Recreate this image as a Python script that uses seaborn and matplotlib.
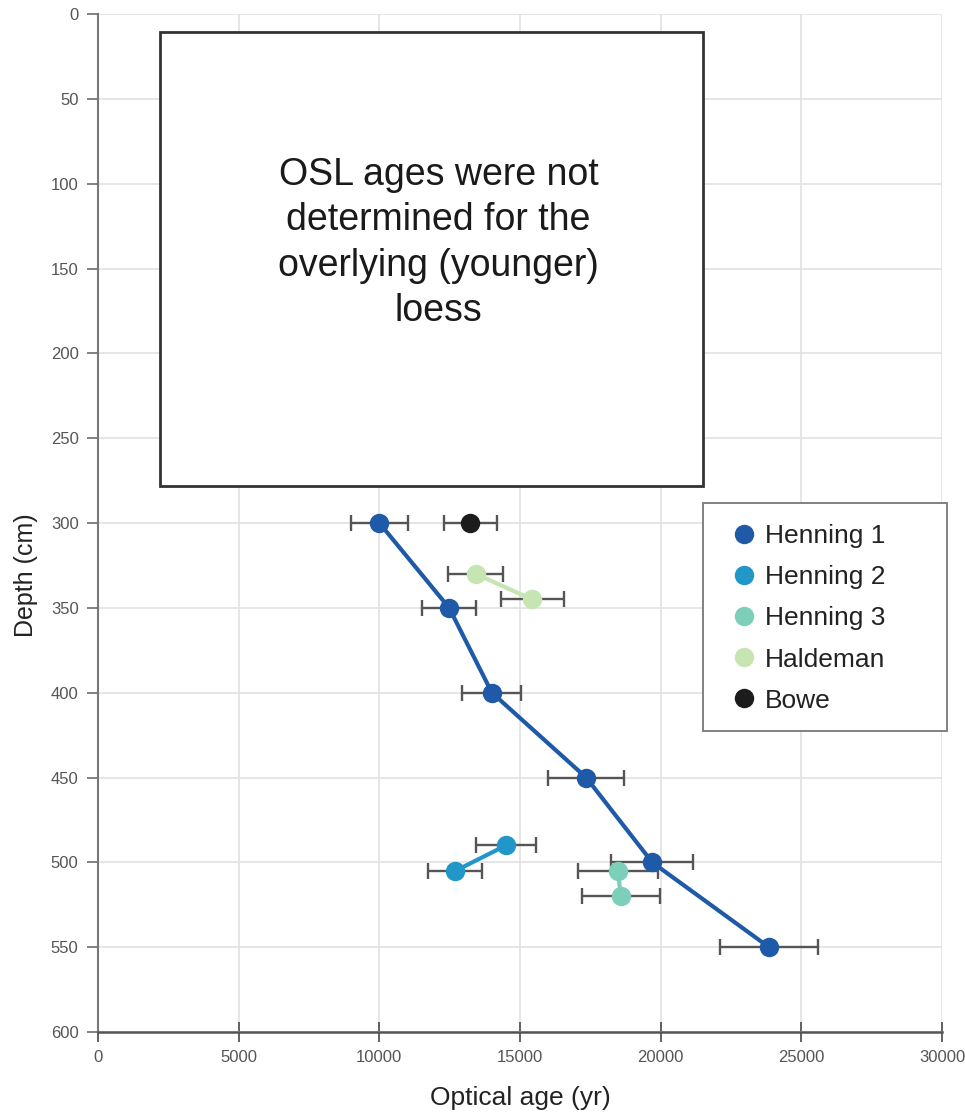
import matplotlib
matplotlib.use("Agg")
import matplotlib.pyplot as plt
import seaborn as sns
import pandas as pd
from matplotlib.lines import Line2D
from matplotlib.patches import Rectangle

# ---- data ----
sites = ["Henning 1", "Henning 2", "Henning 3", "Haldeman", "Bowe"]
colors = ["#1f5aa8", "#2196c9", "#7dcfba", "#c6e5b2", "#1c1c1c"]

h1_age = [10000, 12480, 14000, 17350, 19700, 23850]
h1_depth = [300, 350, 400, 450, 500, 550]
h1_err = [1000, 950, 1050, 1350, 1450, 1750]

h2_age = [14500, 12700]
h2_depth = [490, 505]
h2_err = [1050, 960]

h3_age = [18480, 18580]
h3_depth = [505, 520]
h3_err = [1430, 1380]

hal_age = [13430, 15430]
hal_depth = [330, 345]
hal_err = [980, 1120]

bowe_age = [13230]
bowe_depth = [300]
bowe_err = [950]

x_ticks = [0, 5000, 10000, 15000, 20000, 25000, 30000]
y_ticks = [0, 50, 100, 150, 200, 250, 300, 350, 400, 450, 500, 550, 600]
note_text = "OSL ages were not\ndetermined for the\noverlying (younger)\nloess"

ages = [h1_age, h2_age, h3_age, hal_age, bowe_age]
depths = [h1_depth, h2_depth, h3_depth, hal_depth, bowe_depth]
errs = [h1_err, h2_err, h3_err, hal_err, bowe_err]

rows = []
for s, a, d, e in zip(sites, ages, depths, errs):
    for ai, di, ei in zip(a, d, e):
        rows.append({"site": s, "age": ai, "depth": di, "err": ei})
df = pd.DataFrame(rows)

# ---- style ----
sns.set_theme(style="whitegrid")
plt.rcParams["font.family"] = ["Liberation Sans", "DejaVu Sans"]

fig = plt.figure(figsize=(9.65, 11.15), dpi=100)
ax = fig.add_axes([0.1016, 0.0744, 0.8746, 0.913])

# error bars
ax.errorbar(df["age"], df["depth"], xerr=df["err"], fmt="none",
            ecolor="#555555", elinewidth=1.7, capsize=6, capthick=1.7, zorder=2)

sns.lineplot(data=df, x="age", y="depth", hue="site", hue_order=sites,
             palette=colors, sort=False, estimator=None, marker="o",
             markersize=14, markeredgewidth=0, linewidth=3, legend=False,
             ax=ax, zorder=3)

# note box
ax.add_patch(Rectangle((2200, 10.6), 19300, 267.4, facecolor="white",
                       edgecolor="#333333", linewidth=2, zorder=4))
ax.text(12100, 135, note_text, ha="center", va="center", fontsize=27,
        color="#1a1a1a", linespacing=1.33, zorder=5)

ax.set_xlim(0, 30000)
ax.set_ylim(600, 0)
ax.set_xticks(x_ticks)
ax.set_yticks(y_ticks)
ax.grid(True, color="#e2e2e2", linewidth=1.2)

for side in ["top", "right"]:
    ax.spines[side].set_visible(False)
ax.spines["left"].set_color("#777777")
ax.spines["left"].set_linewidth(1.5)
ax.spines["bottom"].set_color("#555555")
ax.spines["bottom"].set_linewidth(1.8)

ax.tick_params(axis="y", direction="out", length=8, width=1.3, color="#777777",
               labelsize=12, labelcolor="#555555", pad=6, left=True)
ax.tick_params(axis="x", direction="inout", length=14, width=1.3, color="#555555",
               labelsize=12, labelcolor="#555555", pad=6, bottom=True)

ax.set_xlabel("Optical age (yr)", fontsize=19, color="#222222", labelpad=15)
ax.set_ylabel("Depth (cm)", fontsize=18, color="#222222")
ax.yaxis.set_label_coords(-0.071, 0.449)

# legend frame drawn separately (wider on the right, as in the original)
ax.add_patch(Rectangle((0.7168, 0.2957), 0.2891, 0.2240, transform=ax.transAxes,
                       facecolor="white", edgecolor="#777777", linewidth=1.3,
                       clip_on=False, zorder=6))
handles = [Line2D([0], [0], marker="o", linestyle="none", markersize=14,
                  markerfacecolor=c, markeredgewidth=0, label=s)
           for s, c in zip(sites, colors)]
leg = ax.legend(handles=handles, loc="upper left", bbox_to_anchor=(0.7464, 0.499),
                fontsize=19, frameon=False, handletextpad=0.2, labelspacing=0.65,
                borderpad=0, handlelength=1.2, borderaxespad=0)
leg.set_zorder(7)
for t in leg.get_texts():
    t.set_color("#222222")

fig.savefig("out.png", dpi=100)
